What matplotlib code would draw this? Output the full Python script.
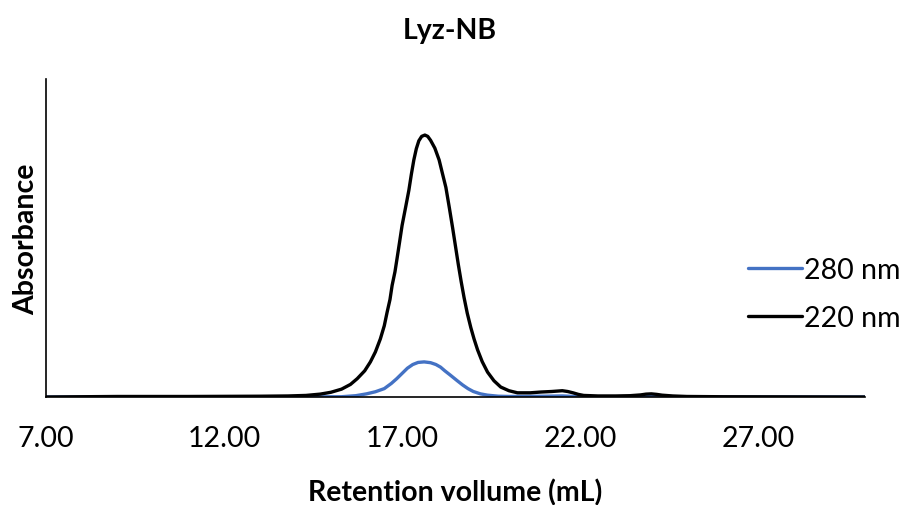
import matplotlib
matplotlib.use("Agg")
import matplotlib.pyplot as plt

plt.rcParams["font.family"] = ["Lato", "DejaVu Sans"]

# Retention volume (mL) and relative absorbance
vol_220 = [7.0, 9.0, 11.0, 13.0, 13.8, 14.3, 14.7, 15.0, 15.3, 15.55, 15.74, 15.95,
           16.11, 16.25, 16.39, 16.50, 16.58, 16.66, 16.72, 16.80, 16.86, 16.93,
           17.0, 17.10, 17.19, 17.26, 17.33, 17.40, 17.47, 17.55, 17.64, 17.72,
           17.80, 17.92, 18.04, 18.13, 18.23, 18.33, 18.42, 18.50, 18.58, 18.66,
           18.74, 18.83, 18.93, 19.02, 19.12, 19.25, 19.40, 19.58, 19.77, 20.0,
           20.24, 20.6, 20.9, 21.2, 21.5, 21.65, 21.8, 21.95, 22.1, 22.5, 23.0,
           23.4, 23.7, 23.85, 24.0, 24.15, 24.3, 24.6, 25.0, 26.0, 30.0]
abs_220 = [0.0, 0.002, 0.002, 0.003, 0.004, 0.006, 0.011, 0.018, 0.030, 0.048, 0.070, 0.100,
           0.134, 0.172, 0.222, 0.272, 0.324, 0.372, 0.426, 0.478, 0.530, 0.592,
           0.655, 0.725, 0.789, 0.850, 0.905, 0.948, 0.978, 0.995, 1.0, 0.995,
           0.980, 0.950, 0.905, 0.855, 0.800, 0.720, 0.645, 0.575, 0.505, 0.440,
           0.380, 0.320, 0.265, 0.222, 0.180, 0.135, 0.095, 0.062, 0.038, 0.024,
           0.016, 0.016, 0.019, 0.021, 0.024, 0.021, 0.016, 0.010, 0.006, 0.004, 0.004,
           0.005, 0.008, 0.011, 0.012, 0.010, 0.007, 0.004, 0.002, 0.001, 0.0]

vol_280 = [7.0, 13.0, 15.3, 15.7, 16.0, 16.25, 16.5, 16.7, 16.85, 17.0, 17.15, 17.3,
           17.45, 17.62, 17.8, 17.95, 18.08, 18.2, 18.35, 18.55, 18.7, 18.85, 19.0,
           19.2, 19.4, 19.7, 20.0, 21.0, 21.5, 22.0, 22.5, 24.0, 25.0, 30.0]
abs_280 = [0.0, 0.0, 0.001, 0.005, 0.012, 0.020, 0.032, 0.052, 0.070, 0.090, 0.110, 0.124,
           0.132, 0.134, 0.131, 0.124, 0.114, 0.100, 0.084, 0.062, 0.046, 0.032, 0.021,
           0.012, 0.007, 0.003, 0.002, 0.003, 0.004, 0.001, 0.0, 0.002, 0.0, 0.0]

xticks = [7, 12, 17, 22, 27]

fig = plt.figure(figsize=(9.1, 5.06), dpi=100)
ax = fig.add_axes([46 / 910, 1 - 398 / 506, (865 - 46) / 910, (398 - 80) / 506])

ax.plot(vol_280, abs_280, color="#4472C4", lw=2.4, label="280 nm",
        solid_joinstyle="round", solid_capstyle="round")
ax.plot(vol_220, abs_220, color="black", lw=2.4, label="220 nm",
        solid_joinstyle="round", solid_capstyle="round")

ax.set_xlim(7, 30)
ax.set_ylim(0, 1.214)
ax.set_xticks(xticks)
ax.set_xticklabels([f"{t:.2f}" for t in xticks])
ax.set_yticks([])
ax.tick_params(axis="x", length=0, pad=20, labelsize=20.5)

for s in ["top", "right"]:
    ax.spines[s].set_visible(False)
ax.spines["left"].set_linewidth(1.2)
ax.spines["bottom"].set_linewidth(1.2)

ax.set_xlabel("Retention vollume (mL)", fontsize=20.5, fontweight="bold", labelpad=20)
ax.set_ylabel("Absorbance", fontsize=20.5, fontweight="bold", labelpad=5)

fig.text(0.494, 1 - 31 / 506, "Lyz-NB", ha="center", va="center",
         fontsize=20.5, fontweight="bold")

fig.legend(loc="center left", bbox_to_anchor=(748 / 910, 1 - 295 / 506),
           frameon=False, fontsize=20.5, handlelength=1.88, handletextpad=0.1,
           labelspacing=0.75, borderpad=0, borderaxespad=0)

fig.savefig("out.png", dpi=100)
